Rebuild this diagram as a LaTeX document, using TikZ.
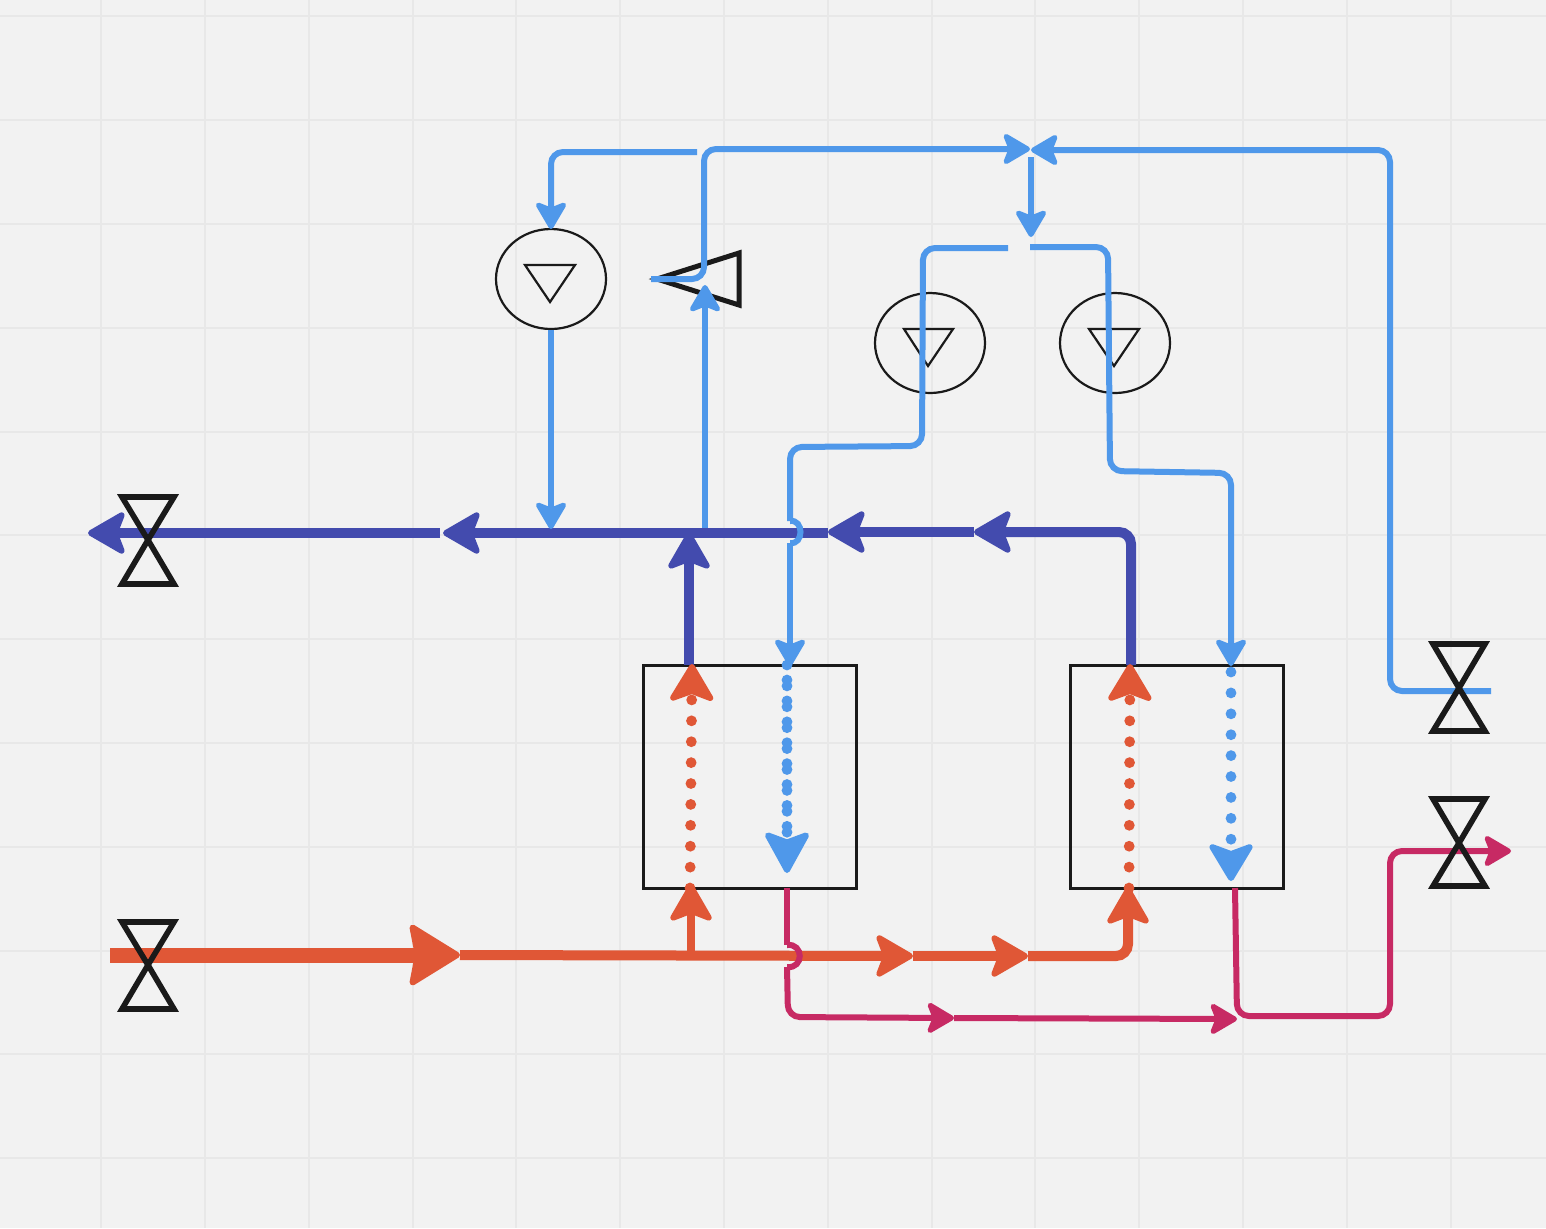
\documentclass[tikz,border=0pt]{standalone}
\usetikzlibrary{arrows.meta,calc,shapes.geometric}
\definecolor{bgc}{HTML}{F2F2F2}
\definecolor{gridc}{HTML}{E8E8E8}
\definecolor{bluec}{HTML}{4F98EA}
\definecolor{indc}{HTML}{434BAE}
\definecolor{orc}{HTML}{E05736}
\definecolor{magc}{HTML}{C72A64}
\definecolor{inkc}{HTML}{1A1A1A}
\tikzset{
  tipS/.tip={Stealth[length=15.5pt,width=18pt,inset=3.5pt,round,line width=2.5pt]},
  tipM/.tip={Stealth[length=21pt,width=24pt,inset=4.5pt,round,line width=3pt]},
  tipL/.tip={Stealth[length=27pt,width=33pt,inset=3pt,round,line width=3pt]},
  tipB/.tip={Stealth[length=21pt,width=25pt,inset=4.5pt,round,line width=3pt]},
  tipX/.tip={Stealth[length=23pt,width=25pt,inset=4.5pt,round,line width=3pt]},
  gridline/.style={gridc,line width=1pt},
  bluepipe/.style={bluec,line width=3pt,rounded corners=6pt},
  indpipe/.style={indc,line width=5pt,rounded corners=6pt},
  orpipe/.style={orc,line width=5pt,rounded corners=6pt},
  magpipe/.style={magc,line width=3pt,rounded corners=6pt},
  hxbox/.style={draw=inkc,line width=1.5pt,rectangle,inner sep=0pt,minimum width=106.5pt,minimum height=111.5pt},
  pumpc/.style={draw=inkc,line width=1.1pt,ellipse,inner sep=0pt,minimum width=55pt,minimum height=50pt},
  tri/.style={draw=inkc,line width=1.1pt,line join=miter},
  valve/.style={draw=inkc,line width=2.8pt,line join=miter},
  dotline/.style={line width=5.4pt,line cap=round,dash pattern=on 0pt off 10.45pt},
}
\begin{document}
\begin{tikzpicture}[x=0.5pt,y=-0.5pt]
\useasboundingbox (0,0) rectangle (1546,1228);
\fill[bgc] (0,0) rectangle (1546,1228);
\foreach \y in {16,120,224,328,432,535,639,743,847,951,1054,1158}
  \draw[gridline] (0,\y) -- (1546,\y);
\foreach \x in {101,205,309,413,516,620,724,828,932,1035,1139,1243,1347,1451}
  \draw[gridline] (\x,0) -- (\x,1228);

% equipment
\node[hxbox] (hxa) at (749.5,776.5) {};
\node[hxbox] (hxb) at (1176.5,776.5) {};
\node[pumpc] (pa) at (551,279) {};
\node[pumpc] (pb) at (930,343) {};
\node[pumpc] (pc) at (1115,343) {};
\draw[tri] (525,265) -- (575,265) -- (550,302) -- cycle;
\draw[tri] (904,329) -- (953,329) -- (928,366) -- cycle;
\draw[tri] (1089,329) -- (1139,329) -- (1114,366) -- cycle;
\draw[inkc,line width=2.5pt,line join=miter] (657,279) -- (739,253) -- (739,305) -- cycle;

% named points
\coordinate (ja) at (697,152);
\coordinate (pain) at (551,229);
\coordinate (cout) at (651,279);
\coordinate (mixl) at (1030,149);
\coordinate (mixr) at (1031,150);
\coordinate (mixd) at (1031,157);
\coordinate (splt) at (1031,237);
\coordinate (sl) at (1008,248);
\coordinate (sr) at (1030,247);
\coordinate (vblue) at (1491,691);
\coordinate (paout) at (551,330);
\coordinate (hdra) at (551,529);
\coordinate (cin) at (705,530);
\coordinate (ctip) at (705,285);
\coordinate (hxat) at (790,666);
\coordinate (hxbt) at (1231,666);
\coordinate (ja1) at (790,521);
\coordinate (ja2) at (790,543);
\coordinate (mj1) at (787,945);
\coordinate (mj2) at (787,967);

% orange main
\coordinate (o0) at (110,955);
\coordinate (o1) at (460,955);
\coordinate (o2) at (913,956);
\coordinate (o3) at (1028,956);
\coordinate (o4) at (1128,887);
\coordinate (obr) at (691,955);
\coordinate (o5) at (691,884);
\draw[orpipe,-{tipM}] (o1) -- (o2);
\draw[orpipe,-{tipM}] (o2) -- (o3);
\draw[orpipe,-{tipM}] (o3) -- (1128,956) -- (o4);
\draw[orc,line width=4pt,-{tipM}] (obr) -- (o5);
\draw[orc,line width=7.5pt,-{tipL}] (o0) -- (o1);

% indigo header
\coordinate (i0) at (1131,665);
\coordinate (i1) at (974,532);
\coordinate (i2) at (828,532);
\coordinate (i3) at (443,533);
\coordinate (i4) at (440,533);
\coordinate (i5) at (88,533);
\coordinate (i6) at (689,665);
\coordinate (i7) at (689,532);
\draw[bluepipe,-{tipS}] (cin) -- (ctip);
\draw[indpipe,-{tipM}] (i0) -- (1131,532) -- (i1);
\draw[indpipe,-{tipM}] (i1) -- (i2);
\draw[indpipe,-{tipM}] (828,533) -- (i3);
\draw[indpipe,-{tipM}] (i4) -- (i5);
\draw[indpipe,-{tipM}] (i6) -- (i7);

% blue lines
\draw[bluepipe,-{tipS}] (ja) -- (551,152) -- (pain);
\draw[bluepipe,-{tipS}] (cout) -- (704,279) -- (704,149) -- (mixl);
\draw[bluepipe,-{tipS}] (vblue) -- (1390,691) -- (1390,150) -- (mixr);
\draw[bluepipe,-{tipS}] (mixd) -- (splt);
\draw[bluepipe] (sl) -- (923,248) -- (922,446) -- (790,447) -- (ja1);
\draw[bluec,line width=3pt] (ja1) .. controls (804,519) and (804,545) .. (ja2);
\draw[bluepipe,-{tipS}] (ja2) -- (hxat);
\draw[bluepipe,-{tipS}] (sr) -- (1108,247) -- (1110,471) -- (1231,473) -- (hxbt);
\draw[bluepipe,-{tipS}] (paout) -- (hdra);

% dotted flows through exchangers
\coordinate (da0) at (690,888);
\coordinate (da1) at (692,664);
\coordinate (db0) at (1129,888);
\coordinate (db1) at (1130,664);
\coordinate (dc0) at (787,665);
\coordinate (dc1) at (787,873);
\coordinate (dc2) at (787,680);
\coordinate (dc3) at (787,840);
\coordinate (dd0) at (1231,672);
\coordinate (dd1) at (1231,881);
\draw[orc,dotline,-{tipB}] (da0) -- (da1);
\draw[orc,dotline,-{tipB}] (db0) -- (db1);
\draw[bluec,dotline] (dc2) -- (dc3);
\draw[bluec,dotline,-{tipX}] (dc0) -- (dc1);
\draw[bluec,dotline,-{tipB}] (dd0) -- (dd1);

% magenta lines
\coordinate (m0) at (787,888);
\coordinate (m1) at (954,1018);
\coordinate (m2) at (1237,1019);
\coordinate (m3) at (1235,888);
\coordinate (m4) at (1511,851);
\draw[magc,line width=3pt] (m0) -- (mj1);
\draw[magc,line width=3pt] (mj1) .. controls (804,943) and (804,969) .. (mj2);
\draw[magpipe,-{tipS}] (mj2) -- (788,1017) -- (m1);
\draw[magpipe,-{tipS}] (m1) -- (m2);
\draw[magpipe,-{tipS}] (m3) -- (1237,1016) -- (1390,1016) -- (1390,851) -- (m4);

% valves
\foreach \cx/\cy/\t/\b in {148/540/497/584,148/965/922/1009,1459/688/644/731,1459/843/799/886}{
  \draw[valve] (\cx-26,\t) -- (\cx+26,\t) -- (\cx,\cy) -- cycle;
  \draw[valve] (\cx-26,\b) -- (\cx+26,\b) -- (\cx,\cy) -- cycle;
}
\end{tikzpicture}
\end{document}
